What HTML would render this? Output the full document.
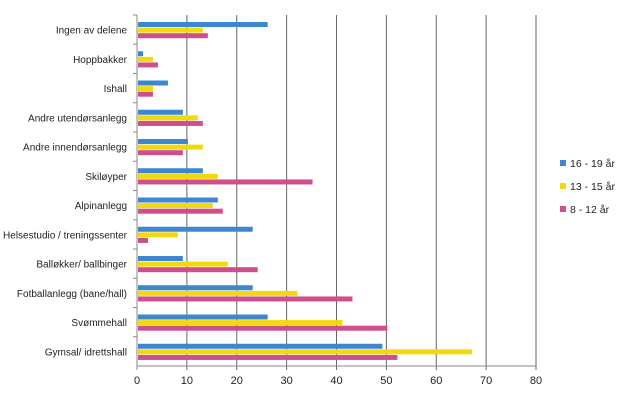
<!DOCTYPE html>
<html><head><meta charset="utf-8"><style>
body{margin:0;background:#fff;font-family:"Liberation Sans",sans-serif}
svg text{font-family:"Liberation Sans",sans-serif;font-size:11px;fill:#222}
svg text.cat{font-size:10px}
</style></head><body>
<svg width="620" height="402">
<g id="grid"></g><g id="bars"></g><g id="labels"></g>
<g>
<rect x="560" y="160" width="6" height="6" fill="#3d86d0"/>
<text x="570" y="167" style="font-size:10.5px">16 - 19 år</text>
<rect x="560" y="183" width="6" height="6" fill="#f2d90d"/>
<text x="570" y="190" style="font-size:10.5px">13 - 15 år</text>
<rect x="560" y="206" width="6" height="6" fill="#cf4f8c"/>
<text x="570" y="213" style="font-size:10.5px">8 - 12 år</text>
</g>
</svg>
<script>
const categories=["Ingen av delene","Hoppbakker","Ishall","Andre utendørsanlegg","Andre innendørsanlegg","Skiløyper","Alpinanlegg","Helsestudio / treningssenter","Balløkker/ ballbinger","Fotballanlegg (bane/hall)","Svømmehall","Gymsal/ idrettshall"];
const s1619=[26,1,6,9,10,13,16,23,9,23,26,49];
const s1315=[13,3,3,12,13,16,15,8,18,32,41,67];
const s812=[14,4,3,13,9,35,17,2,24,43,50,52];
const ticks=[0,10,20,30,40,50,60,70,80];
const NS="http://www.w3.org/2000/svg";
const x0=137,x1=536,plotTop=15,plotBot=366;
const xs=v=>x0+(x1-x0)*v/80;
const band=(plotBot-plotTop)/categories.length;
function mk(t,a,p){const e=document.createElementNS(NS,t);for(const k in a)e.setAttribute(k,a[k]);p.appendChild(e);return e;}
const g=document.getElementById('grid'),b=document.getElementById('bars'),l=document.getElementById('labels');
ticks.forEach(t=>{
 const ln=mk('line',{x1:xs(t),x2:xs(t),y1:plotTop,y2:plotBot+4,stroke:t===0?'#888':'#666','stroke-width':1},g);
 
 
 const tx=mk('text',{x:xs(t),y:plotBot+18,'text-anchor':'middle'},l);tx.textContent=t;
 
 
});
mk('line',{x1:x0,x2:x1,y1:plotBot,y2:plotBot,stroke:'#888'},g);
const series=[[s1619,'#3d86d0','16-19'],[s1315,'#f2d90d','13-15'],[s812,'#cf4f8c','8-12']];
categories.forEach((c,i)=>{
 const y=plotTop+band*i;
 const tk=mk('line',{x1:x0-4,x2:x0,y1:y,y2:y,stroke:'#888'},g);
 
 
 const tx=mk('text',{x:127,y:y+band/2+4,'text-anchor':'end','class':'cat'},l);tx.textContent=c;
 
 
 series.forEach((s,j)=>{
  const r=mk('rect',{x:x0+1,y:y+7+j*5.6,width:Math.max(0,xs(s[0][i])-x0),height:5,fill:s[1]},b);
  
  
 });
});
</script>
</body></html>
